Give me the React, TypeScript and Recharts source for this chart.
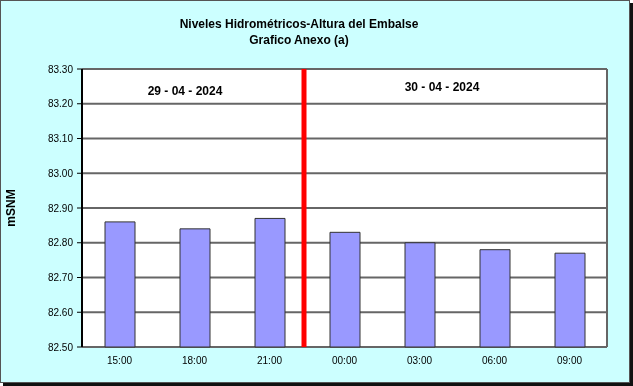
import React from 'react';
import { ComposedChart, Bar, XAxis, YAxis, CartesianGrid, ReferenceLine } from 'recharts';

const categories = ['15:00', '18:00', '21:00', '00:00', '03:00', '06:00', '09:00'];
const levels = [82.86, 82.84, 82.87, 82.83, 82.8, 82.78, 82.77];
const yTicks = [82.5, 82.6, 82.7, 82.8, 82.9, 83.0, 83.1, 83.2, 83.3];
const boundaryTicks = [0, 1, 2, 3, 4, 5, 6, 7];
const dayLabels = ['29 - 04 - 2024', '30 - 04 - 2024'];
const titleLines = ['Niveles Hidrométricos-Altura del Embalse', 'Grafico Anexo (a)'];
const axisTitle = 'mSNM';
const dayChangeX = 2.96;

const data = categories.map((c, i) => ({ name: c, value: levels[i], pos: i + 0.5 }));

const font = '"Liberation Sans", Arial, sans-serif';

export default function App() {
  return (
    <div style={{ position: 'fixed', left: 0, top: 0, width: 633, height: 386 }}>
      <div
        style={{
          position: 'absolute',
          left: 0,
          top: 0,
          width: 628,
          height: 381,
          background: '#CCFFFF',
          border: '1px solid #555',
          boxShadow: '3px 3px 0 #111',
        }}
      />
      <div
        style={{
          position: 'absolute',
          left: 0,
          top: 16,
          width: 598,
          textAlign: 'center',
          fontFamily: font,
          fontWeight: 'bold',
          fontSize: 12,
          lineHeight: '16px',
          color: '#000',
        }}
      >
        <div>{titleLines[0]}</div>
        <div>{titleLines[1]}</div>
      </div>
      <div style={{ position: 'absolute', left: 0, top: 0 }}>
        <ComposedChart
          width={633}
          height={386}
          data={data}
          margin={{ top: 69, right: 26, bottom: 14, left: 0 }}
        >
          <CartesianGrid
            fill="#FFFFFF"
            stroke="#666"
            strokeWidth={2}
            vertical={true}
            verticalCoordinatesGenerator={(p: any) => [p.offset.left + p.offset.width]}
          />
          <XAxis
            xAxisId="num"
            type="number"
            dataKey="pos"
            domain={[0, 7]}
            ticks={boundaryTicks}
            tickFormatter={() => ''}
            height={0}
            tickSize={5}
            stroke="#000"
            axisLine={{ stroke: '#000', strokeWidth: 2 }}
            tickLine={{ stroke: '#000' }}
          />
          <XAxis
            dataKey="name"
            height={25}
            axisLine={false}
            tickLine={false}
            interval={0}
            tick={{ fontSize: 10, fill: '#000', fontFamily: font }}
            tickMargin={4}
          />
          <YAxis
            domain={[82.5, 83.3]}
            ticks={yTicks}
            width={82}
            interval={0}
            tickFormatter={(v: number) => v.toFixed(2)}
            tick={{ fontSize: 10, fill: '#000', fontFamily: font }}
            axisLine={{ stroke: '#000', strokeWidth: 2 }}
            tickLine={{ stroke: '#000' }}
            tickSize={5}
            tickMargin={4}
            label={{
              value: axisTitle,
              angle: -90,
              position: 'insideLeft',
              offset: 11,
              style: { fontSize: 12, fontWeight: 'bold', fill: '#000', fontFamily: font, textAnchor: 'middle' },
            }}
          />
          <Bar
            dataKey="value"
            xAxisId={0}
            barSize={30}
            fill="#9999FF"
            stroke="#333"
            strokeWidth={1}
            isAnimationActive={false}
          />
          <ReferenceLine xAxisId="num" x={dayChangeX} stroke="#FF0000" strokeWidth={5} />
        </ComposedChart>
      </div>
      <div
        style={{
          position: 'absolute',
          left: 125,
          top: 84,
          width: 120,
          textAlign: 'center',
          fontFamily: font,
          fontWeight: 'bold',
          fontSize: 12,
          lineHeight: '14px',
        }}
      >
        {dayLabels[0]}
      </div>
      <div
        style={{
          position: 'absolute',
          left: 382,
          top: 80,
          width: 120,
          textAlign: 'center',
          fontFamily: font,
          fontWeight: 'bold',
          fontSize: 12,
          lineHeight: '14px',
        }}
      >
        {dayLabels[1]}
      </div>
    </div>
  );
}
